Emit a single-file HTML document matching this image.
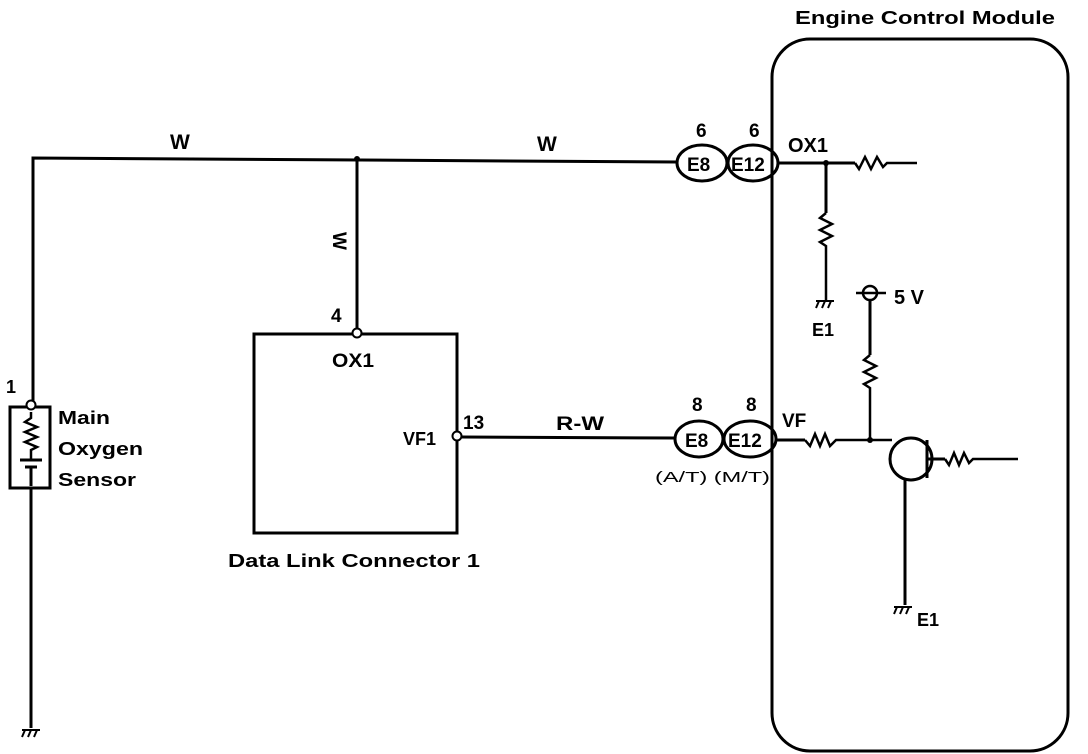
<!DOCTYPE html>
<html><head><style>
html,body{margin:0;padding:0;background:#fff;}
svg{display:block;}
text{font-family:"Liberation Sans",sans-serif;font-weight:bold;fill:#000;}
</style></head><body>
<svg width="1088" height="754" viewBox="0 0 1088 754" xmlns="http://www.w3.org/2000/svg">
<g stroke="#000" stroke-width="3" fill="none">
<rect x="772" y="39" width="296" height="712" rx="38"/>
<polyline points="33,405 33,158 677,162"/>
<line x1="357" y1="159" x2="357" y2="330"/>
<rect x="254" y="334" width="203" height="199"/>
<rect x="10" y="407" width="40" height="81"/>
<line x1="31" y1="488" x2="31" y2="728"/>
<polyline points="31,412 31,418 25,422 37,427 25,432 37,437 25,442 37,447 31,450 31,460" stroke-width="2.5"/>
<line x1="20" y1="460" x2="42" y2="460"/>
<line x1="25" y1="467" x2="37" y2="467"/>
<line x1="31" y1="467" x2="31" y2="486"/>
<line x1="461" y1="437" x2="675" y2="438"/>
<ellipse cx="702" cy="163" rx="25" ry="18"/>
<ellipse cx="753" cy="163" rx="25" ry="18"/>
<ellipse cx="699" cy="439" rx="24" ry="18"/>
<ellipse cx="750" cy="439" rx="26" ry="18"/>
<line x1="777" y1="163" x2="855" y2="163"/>
<polyline points="855,163 859,169 865,157 871,169 877,157 883,167 887,163 917,163" stroke-width="2.5"/>
<line x1="826" y1="163" x2="826" y2="213"/>
<polyline points="826,213 820,218 832,224 820,230 832,236 820,242 826,246 826,300" stroke-width="2.5"/>
<circle cx="870" cy="293" r="7" stroke-width="2.5"/>
<line x1="856" y1="293" x2="886" y2="293" stroke-width="2.5"/>
<line x1="870" y1="300" x2="870" y2="355"/>
<polyline points="870,355 864,360 876,366 864,372 876,378 864,384 870,388 870,440" stroke-width="2.5"/>
<line x1="777" y1="440" x2="805" y2="440"/>
<polyline points="805,440 810,446 815,434 820,446 825,434 830,446 836,440 892,440" stroke-width="2.5"/>
<circle cx="911" cy="459" r="21"/>
<line x1="927" y1="440" x2="927" y2="478"/>
<line x1="927" y1="459" x2="945" y2="459"/>
<polyline points="945,459 949,465 954,453 959,465 964,453 969,463 973,459 1018,459" stroke-width="2.5"/>
<line x1="905" y1="478" x2="905" y2="605"/>
</g>
<circle cx="357" cy="159" r="3" fill="#000"/>
<circle cx="826" cy="163" r="3" fill="#000"/>
<circle cx="870" cy="440" r="3" fill="#000"/>
<circle cx="357" cy="333" r="4.5" fill="#fff" stroke="#000" stroke-width="2"/>
<circle cx="457" cy="436" r="4.5" fill="#fff" stroke="#000" stroke-width="2"/>
<circle cx="31" cy="405" r="4.5" fill="#fff" stroke="#000" stroke-width="2"/>
<g stroke="#000" stroke-width="2">
<line x1="22" y1="730" x2="40" y2="730"/><line x1="25" y1="730" x2="22" y2="737"/><line x1="31" y1="730" x2="28" y2="737"/><line x1="37" y1="730" x2="34" y2="737"/>
<line x1="816" y1="301" x2="834" y2="301"/><line x1="819" y1="301" x2="816" y2="308"/><line x1="825" y1="301" x2="822" y2="308"/><line x1="831" y1="301" x2="828" y2="308"/>
<line x1="894" y1="607" x2="912" y2="607"/><line x1="897" y1="607" x2="894" y2="614"/><line x1="903" y1="607" x2="900" y2="614"/><line x1="909" y1="607" x2="906" y2="614"/>
</g>
<text x="795" y="24" font-size="18.5" textLength="260" lengthAdjust="spacingAndGlyphs">Engine Control Module</text>
<text x="170" y="149" font-size="21">W</text>
<text x="537" y="151" font-size="21">W</text>
<text transform="translate(333,232) rotate(90)" font-size="19">W</text>
<text x="331" y="322" font-size="19">4</text>
<text x="332" y="367" font-size="19" textLength="42" lengthAdjust="spacingAndGlyphs">OX1</text>
<text x="403" y="445" font-size="18">VF1</text>
<text x="463" y="429" font-size="19">13</text>
<text x="556" y="430" font-size="19" textLength="48" lengthAdjust="spacingAndGlyphs">R-W</text>
<text x="228" y="567" font-size="18.5" textLength="252" lengthAdjust="spacingAndGlyphs">Data Link Connector 1</text>
<text x="6" y="393" font-size="18">1</text>
<text x="58" y="424" font-size="18.5" textLength="52" lengthAdjust="spacingAndGlyphs">Main</text>
<text x="58" y="455" font-size="18.5" textLength="85" lengthAdjust="spacingAndGlyphs">Oxygen</text>
<text x="58" y="486" font-size="18.5" textLength="78" lengthAdjust="spacingAndGlyphs">Sensor</text>
<text x="696" y="137" font-size="19">6</text>
<text x="749" y="137" font-size="19">6</text>
<text x="687" y="171" font-size="19">E8</text>
<text x="731" y="171" font-size="19">E12</text>
<text x="788" y="152" font-size="20">OX1</text>
<text x="812" y="336" font-size="18">E1</text>
<text x="894" y="304" font-size="20">5 V</text>
<text x="692" y="411" font-size="19">8</text>
<text x="746" y="411" font-size="19">8</text>
<text x="685" y="447" font-size="19">E8</text>
<text x="728" y="447" font-size="19">E12</text>
<text x="782" y="427" font-size="19">VF</text>
<text x="655" y="482" font-size="15" style="font-weight:normal" textLength="115" lengthAdjust="spacingAndGlyphs">(A/T) (M/T)</text>
<text x="917" y="626" font-size="18">E1</text>
</svg>
</body></html>
